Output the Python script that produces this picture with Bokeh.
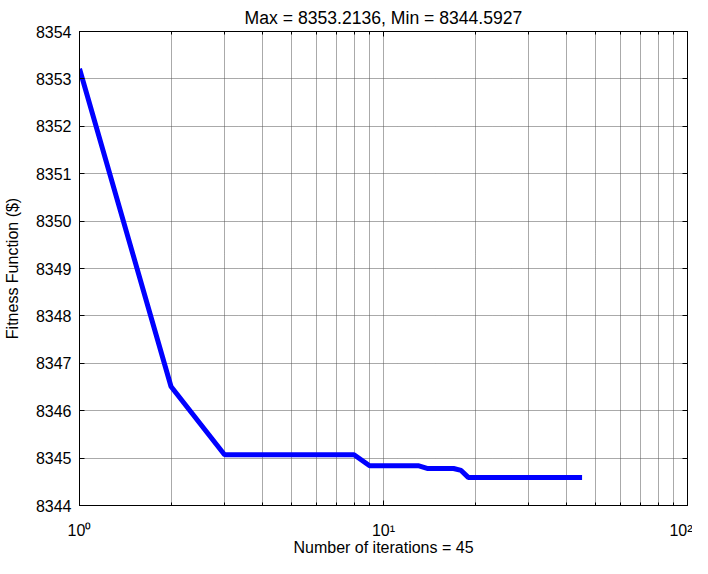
from bokeh.plotting import figure
from bokeh.models import (Range1d, LogAxis, LinearAxis, FixedTicker,
                          CustomJSTickFormatter, ColumnDataSource)
from bokeh.embed import file_html
from bokeh.resources import INLINE

# ---- data ----
iterations = [1, 2, 3, 4, 5, 6, 7, 8, 9, 10,
              11, 12, 13, 14, 15, 16, 17, 18, 19, 20,
              21, 22, 23, 24, 25, 26, 27, 28, 29, 30,
              31, 32, 33, 34, 35, 36, 37, 38, 39, 40,
              41, 42, 43, 44, 45]
fitness = [8353.2136, 8346.51, 8345.07, 8345.07, 8345.07, 8345.07, 8345.07, 8345.07, 8344.84, 8344.84,
           8344.84, 8344.84, 8344.84, 8344.78, 8344.78, 8344.78, 8344.78, 8344.74, 8344.5927, 8344.5927,
           8344.5927, 8344.5927, 8344.5927, 8344.5927, 8344.5927, 8344.5927, 8344.5927, 8344.5927, 8344.5927, 8344.5927,
           8344.5927, 8344.5927, 8344.5927, 8344.5927, 8344.5927, 8344.5927, 8344.5927, 8344.5927, 8344.5927, 8344.5927,
           8344.5927, 8344.5927, 8344.5927, 8344.5927, 8344.5927]

x_major_ticks = [1, 10, 100]
x_minor_ticks = [2, 3, 4, 5, 6, 7, 8, 9, 20, 30, 40, 50, 60, 70, 80, 90]
x_tick_labels = ["10\u2070", "10\u00b9", "10\u00b2"]
y_ticks = [8344, 8345, 8346, 8347, 8348, 8349, 8350, 8351, 8352, 8353, 8354]

title_text = "Max = 8353.2136, Min = 8344.5927"
x_label = "Number of iterations = 45"
y_label = "Fitness Function ($)"

FONT = "Liberation Sans"
FS = "16px"

src = ColumnDataSource(data=dict(iteration=iterations, fitness=fitness))

p = figure(width=692, height=558, x_axis_type="log",
           x_range=Range1d(1, 100), y_range=Range1d(8344, 8354),
           output_backend="svg", toolbar_location=None,
           min_border_left=77, min_border_right=5,
           min_border_top=31, min_border_bottom=51)

p.background_fill_color = "white"
p.border_fill_color = "white"
p.outline_line_color = "black"
p.outline_line_width = 1

p.title.text = title_text
p.title.align = "center"
p.title.text_font = FONT
p.title.text_font_size = "17.6px"
p.title.text_font_style = "normal"
p.title.text_color = "black"
p.title.standoff = 8

xticker = FixedTicker(ticks=x_major_ticks, minor_ticks=x_minor_ticks)
yticker = FixedTicker(ticks=y_ticks)

xa = p.xaxis[0]
xa.ticker = xticker
xa.major_label_overrides = {t: lab for t, lab in zip(x_major_ticks, x_tick_labels)}
xa.axis_label = x_label
ya = p.yaxis[0]
ya.ticker = yticker
ya.axis_label = y_label

for ax in (xa, ya):
    ax.axis_line_color = "black"
    ax.major_tick_line_color = "black"
    ax.minor_tick_line_color = "black"
    ax.major_tick_in = 5
    ax.major_tick_out = 0
    ax.minor_tick_in = 3
    ax.minor_tick_out = 0
    ax.major_label_text_font = FONT
    ax.major_label_text_font_size = FS
    ax.major_label_text_color = "black"
    ax.axis_label_text_font = FONT
    ax.axis_label_text_font_size = FS
    ax.axis_label_text_font_style = "normal"
    ax.axis_label_text_color = "black"
ya.minor_tick_line_color = None
ya.major_label_standoff = 8
ya.axis_label_standoff = 12
xa.major_label_standoff = 16
xa.axis_label_standoff = -3

empty = CustomJSTickFormatter(code="return ''")
top = LogAxis(ticker=xticker, formatter=empty)
right = LinearAxis(ticker=yticker, formatter=empty)
for ax in (top, right):
    ax.axis_line_color = "black"
    ax.major_tick_line_color = "black"
    ax.minor_tick_line_color = "black"
    ax.major_tick_in = 5
    ax.major_tick_out = 0
    ax.minor_tick_in = 3
    ax.minor_tick_out = 0
    ax.major_label_standoff = 0
right.minor_tick_line_color = None
p.add_layout(top, "above")
p.add_layout(right, "right")

p.xgrid.ticker = xticker
p.ygrid.ticker = yticker
for g in (p.xgrid, p.ygrid):
    g.grid_line_color = "#555555"
    g.grid_line_dash = "1 1"
    g.grid_line_width = 1
p.xgrid.minor_grid_line_color = "#555555"
p.xgrid.minor_grid_line_dash = "1 1"

p.line("iteration", "fitness", source=src, line_color="#0000ff", line_width=5)

open("out.html", "w").write(file_html(p, INLINE))
